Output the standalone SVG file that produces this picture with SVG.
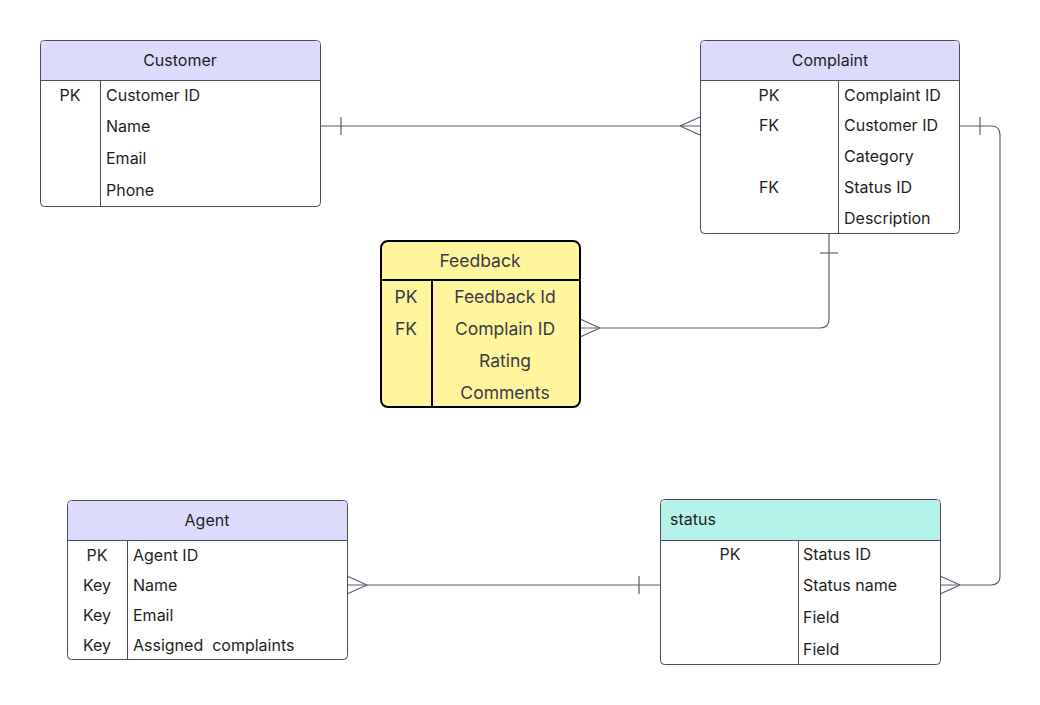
<svg xmlns="http://www.w3.org/2000/svg" width="1040" height="705" viewBox="0 0 1040 705">
<style>
text{font-family:Inter,"Noto Sans","Liberation Sans",sans-serif;font-size:16px;fill:#1e1e1e;dominant-baseline:central}
.box{fill:#fff;stroke:#4a4d5a;stroke-width:1}
.hdr{fill:#dcdcfa}
.ln{stroke:#4a4d5a;stroke-width:1;fill:none}
.c{text-anchor:middle}
.fb text{fill:#3a3a48;font-size:17.5px}
.conn path{stroke:#5a5e6e;stroke-width:1.2;fill:none}
</style>
<rect width="1040" height="705" fill="#fff"/>
<g class="conn">
<path d="M320,126 H700"/>
<path d="M341,117 V135"/>
<path d="M680,126 L700,117 M680,126 L700,135"/>
<path d="M960,126 H991 Q1000,126 1000,135 V576 Q1000,585 991,585 H940"/>
<path d="M980,117 V135"/>
<path d="M960,585 L940,576 M960,585 L940,594"/>
<path d="M829,234 V319 Q829,328 820,328 H580"/>
<path d="M820,253 H838"/>
<path d="M600,328 L580,319 M600,328 L580,337"/>
<path d="M347,585 H660"/>
<path d="M639,576 V594"/>
<path d="M367,585 L347,576 M367,585 L347,594"/>
</g>
<g id="customer">
<rect class="box" x="40.500" y="40.500" width="280" height="166" rx="4"/>
<path class="hdr" d="M44.5,41 H316.5 Q320,41 320,44.5 V80 H41 V44.5 Q41,41 44.5,41Z"/>
<path class="ln" d="M40.500,80.500 H320.500 M100.500,80.500 V206.500"/>
<text class="c" x="180" y="60">Customer</text>
<text class="c" x="70" y="95">PK</text>
<text x="106" y="95">Customer ID</text>
<text x="106" y="126">Name</text>
<text x="106" y="158">Email</text>
<text x="106" y="190">Phone</text>
</g>
<g id="complaint">
<rect class="box" x="700.500" y="40.500" width="259" height="193" rx="4"/>
<path class="hdr" d="M704.5,41 H955.5 Q959,41 959,44.5 V80 H701 V44.5 Q701,41 704.5,41Z"/>
<path class="ln" d="M700.500,80.500 H959.500 M838.500,80.500 V233.500"/>
<text class="c" x="830" y="60">Complaint</text>
<text class="c" x="769" y="95">PK</text>
<text class="c" x="769" y="125">FK</text>
<text class="c" x="769" y="187">FK</text>
<text x="844" y="95">Complaint ID</text>
<text x="844" y="125">Customer ID</text>
<text x="844" y="156">Category</text>
<text x="844" y="187">Status ID</text>
<text x="844" y="218">Description</text>
</g>
<g id="feedback" class="fb">
<rect x="381" y="241" width="199" height="166" rx="7" fill="#fff59d" stroke="#000" stroke-width="2"/>
<path d="M381,280 H580 M432,280 V407" stroke="#000" stroke-width="2" fill="none"/>
<text class="c" x="480" y="260">Feedback</text>
<text class="c" x="406" y="296">PK</text>
<text class="c" x="406" y="328">FK</text>
<text class="c" x="505" y="296">Feedback Id</text>
<text class="c" x="505" y="328">Complain ID</text>
<text class="c" x="505" y="360">Rating</text>
<text class="c" x="505" y="392">Comments</text>
</g>
<g id="agent">
<rect class="box" x="67.500" y="500.500" width="280" height="159" rx="4"/>
<path class="hdr" d="M71.5,501 H343.5 Q347,501 347,504.5 V540 H68 V504.5 Q68,501 71.5,501Z"/>
<path class="ln" d="M67.500,540.500 H347.500 M127.500,540.500 V659.500"/>
<text class="c" x="207" y="520">Agent</text>
<text class="c" x="97" y="555">PK</text>
<text class="c" x="97" y="585">Key</text>
<text class="c" x="97" y="615">Key</text>
<text class="c" x="97" y="645">Key</text>
<text x="133" y="555">Agent ID</text>
<text x="133" y="585">Name</text>
<text x="133" y="615">Email</text>
<text x="133" y="645" xml:space="preserve">Assigned  complaints</text>
</g>
<g id="status">
<rect class="box" x="660.500" y="499.500" width="280" height="165" rx="4"/>
<path d="M664.5,500 H936.5 Q940,500 940,503.5 V540 H661 V503.5 Q661,500 664.5,500Z" fill="#b5f3ea"/>
<path class="ln" d="M660.500,540.500 H940.500 M798.500,540.500 V664.500"/>
<text x="670" y="519">status</text>
<text class="c" x="730" y="554">PK</text>
<text x="803" y="554">Status ID</text>
<text x="803" y="585">Status name</text>
<text x="803" y="617">Field</text>
<text x="803" y="649">Field</text>
</g>
</svg>
